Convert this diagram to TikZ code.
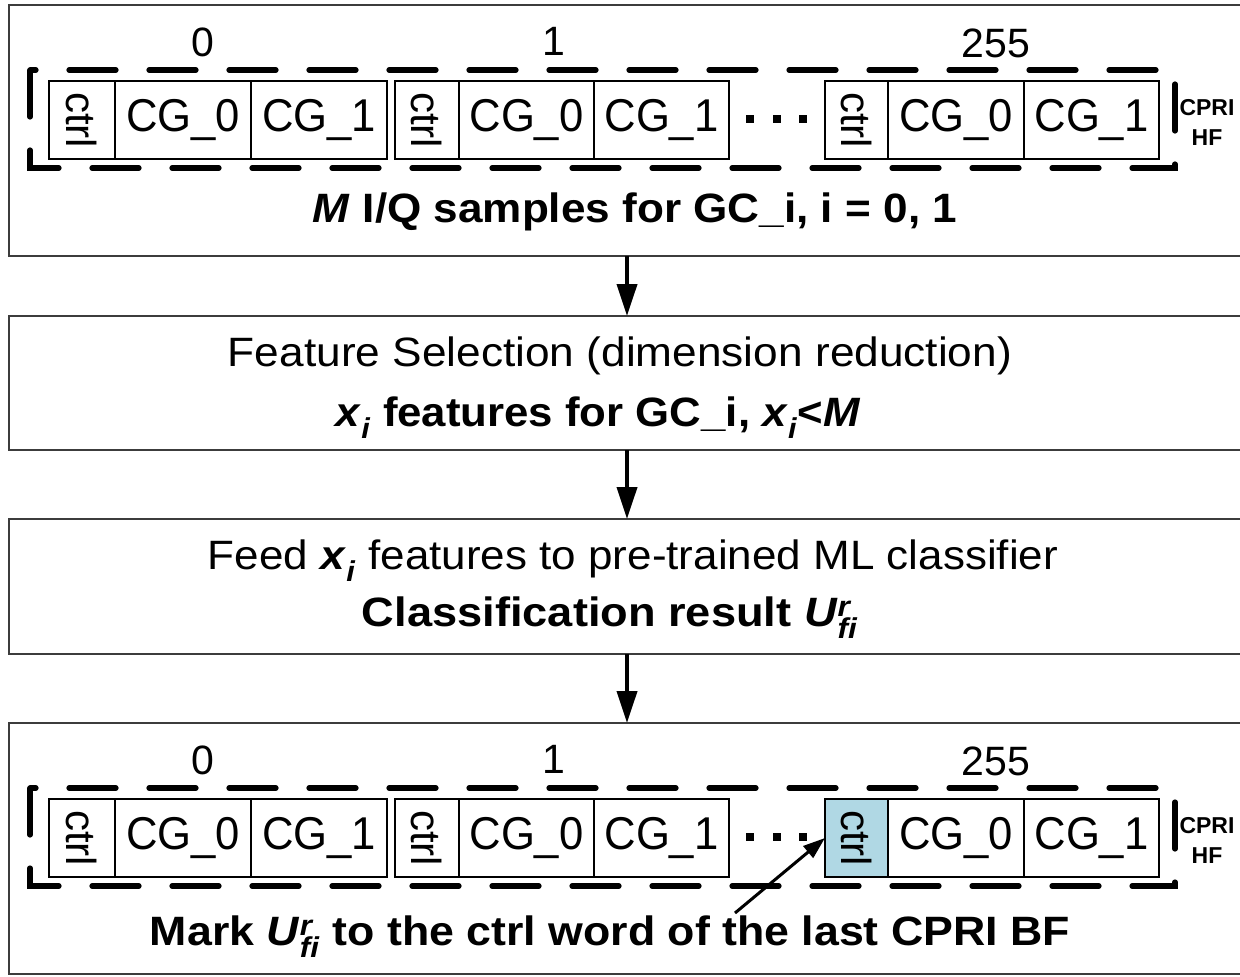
\documentclass[tikz,border=0pt]{standalone}
\usepackage{graphicx}
\usepackage{fontspec}
\setmainfont{Liberation Sans}
\usetikzlibrary{arrows.meta}

\definecolor{markblue}{RGB}{176,216,228}
\definecolor{stageline}{RGB}{60,60,60}

% text sizes
\newcommand{\bigtext}{\fontsize{41}{49}\selectfont}
\newcommand{\celltext}{\fontsize{46}{52}\selectfont}
\newcommand{\hftext}{\fontsize{23}{30}\selectfont}
% stretch a line horizontally to a given width (pt), height unchanged
\newcommand{\wfit}[2]{\resizebox{#1pt}{\height}{#2}}
% cell labels
\newcommand{\cg}[1]{\wfit{114}{CG\_#1}}
\newcommand{\ctrlword}{\rotatebox{-90}{\resizebox{56pt}{!}{ctrl}}}
% bold italic symbol with subscript / superscript
\newcommand{\xsub}{\textbf{\textit{x}\textsubscript{\textit{i}}}}
\newcommand{\ures}{\textbf{\textit{U}\rlap{\textsuperscript{\textit{r}}}\textsubscript{\textit{fi}}}}

\tikzset{
  stage/.style={draw=stageline, line width=2.6pt, rectangle, anchor=north west,
    inner sep=0pt, outer sep=0pt, minimum width=1250pt},
  cell/.style={draw=black, line width=2.6pt, rectangle, inner sep=0pt, outer sep=0pt,
    minimum height=78pt, anchor=west, font=\celltext},
  ctrlcell/.style={cell, minimum width=66pt},
  cgcell/.style={cell, minimum width=136pt},
  idx/.style={font=\bigtext, inner sep=0pt},
  hf/.style={font=\hftext\bfseries, align=center, inner sep=0pt},
  dotmark/.style={rectangle, fill=black, inner sep=0pt, minimum size=7.5pt},
  bfgroup/.style={line width=5.2pt, dash pattern=on 47pt off 33pt, line cap=round},
  flow/.style={line width=4pt, -{Triangle[length=32pt,width=20pt]}},
  markarrow/.style={line width=3pt, -{Triangle[length=22pt,width=15pt]}},
  line/.style={font=\bigtext, inner sep=0pt, anchor=base},
}

% one row of CPRI basic frames: #1 name prefix, #2 vertical offset, #3 fill of last ctrl
\newcommand{\frameRow}[3]{%
  \node[idx] (#1l0) at (203,{42+#2}) {0};
  \node[idx] (#1l1) at (554,{41+#2}) {1};
  \node[idx] (#1l2) at (996,{43+#2}) {255};
  \draw[bfgroup] (30,{70+#2}) -- (30,{168+#2}) -- (1175,{168+#2}) -- (1175,{70+#2}) -- cycle;
  % frame 0
  \node[ctrlcell] (#1c0) at (49,{120+#2}) {\ctrlword};
  \node[cgcell] (#1a0) at (#1c0.east) {\cg{0}};
  \node[cgcell] (#1b0) at (#1a0.east) {\cg{1}};
  % frame 1
  \node[ctrlcell, minimum width=64pt] (#1c1) at (395,{120+#2}) {\ctrlword};
  \node[cgcell, minimum width=135pt] (#1a1) at (#1c1.east) {\cg{0}};
  \node[cgcell, minimum width=135pt] (#1b1) at (#1a1.east) {\cg{1}};
  % gap
  \node[dotmark] (#1d0) at (750,{119+#2}) {};
  \node[dotmark] (#1d1) at (777,{119+#2}) {};
  \node[dotmark] (#1d2) at (803,{119+#2}) {};
  % frame 255
  \node[ctrlcell, minimum width=63pt, fill=#3] (#1c2) at (825,{120+#2}) {\ctrlword};
  \node[cgcell] (#1a2) at (#1c2.east) {\cg{0}};
  \node[cgcell, minimum width=135pt] (#1b2) at (#1a2.east) {\cg{1}};
  \node[hf] (#1hf) at (1207,{122+#2}) {CPRI\\HF};
}

\begin{document}
\begin{tikzpicture}[x=1pt, y=-1pt]
  \useasboundingbox (0,0) rectangle (1240,977);
  \clip (0,0) rectangle (1240,977);
  \fill[white] (0,0) rectangle (1240,977);

  % processing stages
  \node[stage, minimum height=251pt] (s1) at (9,5) {};
  \node[stage, minimum height=134pt] (s2) at (9,316) {};
  \node[stage, minimum height=135pt] (s3) at (9,519) {};
  \node[stage, minimum height=251pt] (s4) at (9,723) {};

  % stage 1: received basic frames
  \frameRow{a}{0}{white}
  \node[line] (t1) at (635,222) {\wfit{644}{\textbf{\textit{M} I/Q samples for GC\_i, i = 0, 1}}};

  % stage 2: feature selection
  \node[line] (t2) at (620,366) {\wfit{784}{Feature Selection (dimension reduction)}};
  \node[line] (t3) at (598,426) {\wfit{525}{\textbf{\xsub{} features for GC\_i, \xsub<\textit{M}}}};

  % stage 3: classification
  \node[line] (t4) at (633,569) {\wfit{850}{Feed \xsub{} features to pre-trained ML classifier}};
  \node[line] (t5) at (610,626) {\wfit{496}{\textbf{Classification result \ures}}};

  % stage 4: marking the ctrl word
  \frameRow{b}{718}{markblue}
  \node[line] (t6) at (610,945) {\wfit{920}{\textbf{Mark \ures{} to the ctrl word of the last CPRI BF}}};
  \coordinate (mk) at (735,913);
  \draw[markarrow] (mk) -- (bc2.west);

  % flow between stages
  \coordinate (ax) at (627,0);
  \draw[flow] (s1.south -| ax) -- (s2.north -| ax);
  \draw[flow] (s2.south -| ax) -- (s3.north -| ax);
  \draw[flow] (s3.south -| ax) -- (s4.north -| ax);
\end{tikzpicture}
\end{document}
